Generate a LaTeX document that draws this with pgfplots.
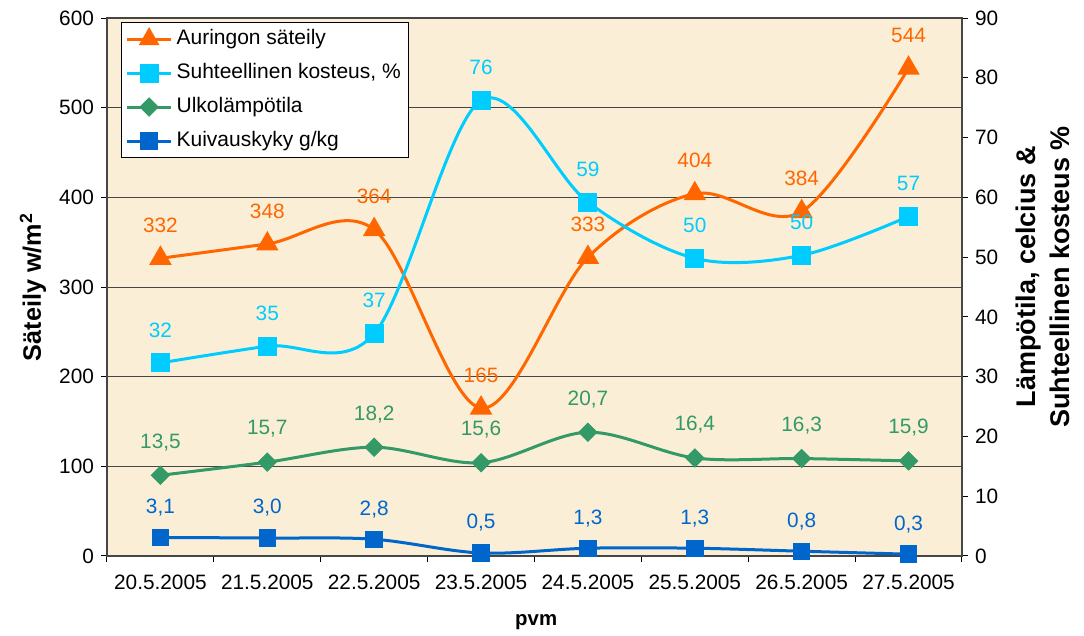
\documentclass[border=0pt]{standalone}
\usepackage{pgfplots}
\pgfplotsset{compat=1.18}
\usepackage{fontspec}
\setmainfont{Liberation Sans}
\definecolor{cOr}{RGB}{255,102,0}
\definecolor{cCy}{RGB}{0,204,255}
\definecolor{cGr}{RGB}{51,153,102}
\definecolor{cBl}{RGB}{0,102,204}
\definecolor{bgc}{RGB}{250,239,214}
\definecolor{gridc}{RGB}{70,70,70}
\newcommand{\tf}{\fontsize{10.4}{12}\selectfont}
\begin{document}
\begin{tikzpicture}
\useasboundingbox (-53.5pt,-40pt) rectangle (488.5pt,278pt);
\pgfplotsset{
  base/.style={
    scale only axis, width=427.5pt, height=269pt,
    at={(0,0)}, anchor=south west,
    xmin=-0.5, xmax=7.5,
    /pgf/number format/assume math mode=true,
    tick label style={font=\tf, black},
    tick align=outside,
    major tick length=3pt, minor tick length=3pt,
    every tick/.style={black, line width=0.5pt},
  },
  lbl/.style={nodes near coords, every node near coord/.append style={font=\tf, text=#1, anchor=center, yshift=16.5pt}},
}
\begin{axis}[base,
  ymin=0, ymax=600, ytick={0,100,...,600}, ytick pos=left,
  ymajorgrids, grid style={gridc, line width=0.5pt},
  axis background/.style={fill=bgc},
  axis line style={gridc, line width=0.6pt},
  xtick={0,...,7},
  xticklabels={20.5.2005,21.5.2005,22.5.2005,23.5.2005,24.5.2005,25.5.2005,26.5.2005,27.5.2005},
  minor xtick={-0.5,0.5,...,7.5},
  xtick pos=bottom,
  major x tick style={draw=none},
  xticklabel style={yshift=-3pt},
  xlabel={pvm},
  xlabel style={font=\fontsize{10.2}{12}\selectfont\bfseries, at={(axis description cs:0.502,-0.1227)}, anchor=center},
  ylabel={Säteily w/m\textsuperscript{2}},
  ylabel style={font=\fontsize{12.6}{14}\selectfont\bfseries, at={(axis description cs:-0.0865,0.5)}, anchor=center, rotate=0},
]
\addplot[cOr, line width=1.5pt, smooth, tension=0.55, mark=triangle*, mark size=5pt, mark options={solid},
  lbl=cOr, nodes near coords={\pgfmathprintnumber[fixed,precision=0]{\pgfplotspointmeta}}]
  coordinates {(0,332) (1,348) (2,364) (3,165) (4,333) (5,404) (6,384) (7,544)};
\end{axis}
\begin{axis}[base,
  ymin=0, ymax=90, ytick={0,10,...,90},
  axis y line*=right, axis x line=none,
  y axis line style={gridc, line width=0.6pt},
  ylabel={\begin{tabular}{c}Lämpötila, celcius \&\\[3pt] Suhteellinen kosteus \%\end{tabular}},
  ylabel style={font=\fontsize{13.5}{14}\selectfont\bfseries, at={(axis description cs:1.0994,0.519)}, anchor=center, rotate=0},
  legend style={at={(axis description cs:0.0164,0.9926)}, anchor=north west,
    draw=black, line width=0.6pt, fill=white, font=\fontsize{10.5}{12}\selectfont,
    inner xsep=2pt, inner ysep=3pt, row sep=6.5pt,
    nodes={inner ysep=0pt, inner xsep=2pt, text height=8pt, text depth=2.5pt},
    cells={anchor=west}},
  legend image code/.code={\draw[mark repeat=2,mark phase=2,#1] plot coordinates {(0pt,0pt) (11pt,0pt) (22pt,0pt)};},
]
\addlegendimage{cOr, line width=1.5pt, mark=triangle*, mark size=4.5pt, mark options={solid}}
\addlegendentry{Auringon säteily}
\addplot[cCy, line width=1.5pt, smooth, tension=0.55, mark=square*, mark size=4pt, mark options={solid},
  lbl=cCy, nodes near coords={\pgfmathprintnumber[fixed,precision=0]{\pgfplotspointmeta}}]
  coordinates {(0,32.3) (1,35.1) (2,37.2) (3,76.2) (4,59.2) (5,49.8) (6,50.3) (7,56.8)};
\addlegendentry{Suhteellinen kosteus, \%}
\addplot[cGr, line width=1.5pt, smooth, tension=0.55, mark=square*, mark size=2.7pt, mark options={solid, rotate=45},
  lbl=cGr, nodes near coords={\pgfmathprintnumber[fixed,fixed zerofill,precision=1,use comma]{\pgfplotspointmeta}}]
  coordinates {(0,13.5) (1,15.7) (2,18.2) (3,15.6) (4,20.7) (5,16.4) (6,16.3) (7,15.9)};
\addlegendentry{Ulkolämpötila}
\addplot[cBl, line width=1.5pt, smooth, tension=0.55, mark=square*, mark size=3.6pt, mark options={solid},
  lbl=cBl, every node near coord/.append style={yshift=-1.5pt},
  nodes near coords={\pgfmathprintnumber[fixed,fixed zerofill,precision=1,use comma]{\pgfplotspointmeta}}]
  coordinates {(0,3.1) (1,3.0) (2,2.8) (3,0.5) (4,1.3) (5,1.3) (6,0.8) (7,0.3)};
\addlegendentry{Kuivauskyky g/kg}
\end{axis}
\end{tikzpicture}
\end{document}
